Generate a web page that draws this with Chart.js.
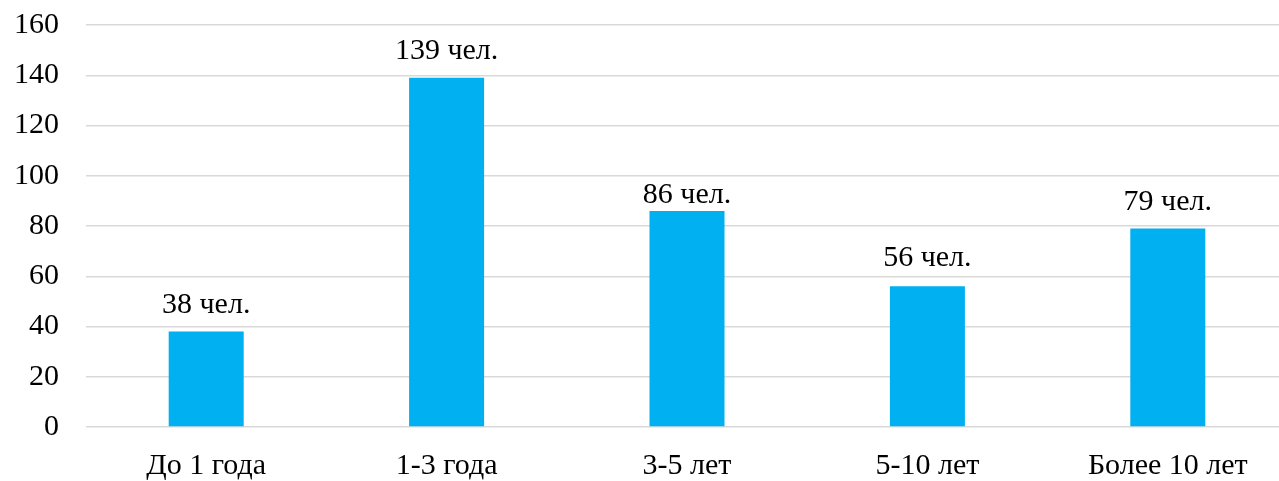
<!DOCTYPE html>
<html>
<head>
<meta charset="utf-8">
<script src="https://cdn.jsdelivr.net/npm/chart.js@4/dist/chart.umd.min.js"></script>
<style>
  html, body { margin: 0; padding: 0; background: #fff; overflow: hidden; }
  #wrap { width: 1290px; height: 481px; }
</style>
</head>
<body>
<div id="wrap"><canvas id="chart"></canvas></div>
<script>
// data
const categories = ['До 1 года', '1-3 года', '3-5 лет', '5-10 лет', 'Более 10 лет'];
const people = [38, 139, 86, 56, 79];
const yTicks = [0, 20, 40, 60, 80, 100, 120, 140, 160];

const FONT = '"Liberation Serif", "Times New Roman", serif';
const FSIZE = 30;

// labels above the bars (the "86" label sits lower in the original)
const labelGap = [19, 19, 8, 20, 19];
const barLabels = {
  id: 'barLabels',
  afterDatasetsDraw(chart) {
    const ctx = chart.ctx;
    const meta = chart.getDatasetMeta(0);
    ctx.save();
    ctx.font = FSIZE + 'px ' + FONT;
    ctx.fillStyle = '#000';
    ctx.textAlign = 'center';
    ctx.textBaseline = 'alphabetic';
    meta.data.forEach((bar, i) => {
      ctx.fillText(people[i] + ' чел.', bar.x, bar.y - labelGap[i]);
    });
    ctx.restore();
  }
};

new Chart(document.getElementById('chart'), {
  type: 'bar',
  data: {
    labels: categories,
    datasets: [{
      data: people,
      backgroundColor: '#00B0F0',
      barPercentage: 1,
      categoryPercentage: 0.312
    }]
  },
  options: {
    responsive: true,
    maintainAspectRatio: false,
    animation: false,
    layout: { padding: { top: 25, right: 2, left: 0, bottom: 0 } },
    plugins: { legend: { display: false }, tooltip: { enabled: false } },
    scales: {
      x: {
        grid: { display: false },
        border: { display: false },
        ticks: { color: '#000', font: { family: FONT, size: FSIZE }, padding: 13 },
        afterFit(s) { s.height = 54; }
      },
      y: {
        min: 0,
        max: 160,
        afterBuildTicks(s) { s.ticks = yTicks.map(v => ({ value: v })); },
        grid: { color: '#d9d9d9', lineWidth: 1.5, drawTicks: false },
        border: { display: false },
        ticks: { color: '#000', font: { family: FONT, size: FSIZE }, padding: 27 },
        afterFit(s) { s.width = 86; s.paddingTop = 0; s.paddingBottom = 0; }
      }
    }
  },
  plugins: [barLabels]
});
</script>
</body>
</html>
